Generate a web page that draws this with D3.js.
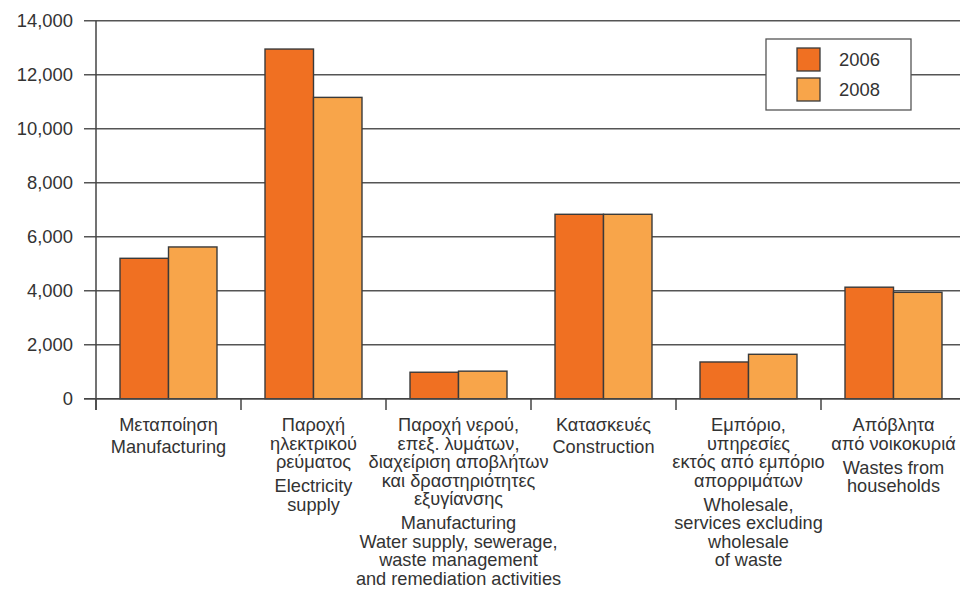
<!DOCTYPE html>
<html><head><meta charset="utf-8">
<script src="https://cdnjs.cloudflare.com/ajax/libs/d3/7.8.5/d3.min.js"></script>
<style>body{margin:0;background:#fff}svg{display:block}text{font-family:"Liberation Sans",Arial,Helvetica,sans-serif;fill:#333}</style>
</head><body>
<script>
const categories = ["manufacturing","electricity","water","construction","wholesale","households"];
const labelsGreek = [
  ["Μεταποίηση"],
  ["Παροχή","ηλεκτρικού","ρεύματος"],
  ["Παροχή νερού,","επεξ. λυμάτων,","διαχείριση αποβλήτων","και δραστηριότητες","εξυγίανσης"],
  ["Κατασκευές"],
  ["Εμπόριο,","υπηρεσίες","εκτός από εμπόριο","απορριμάτων"],
  ["Απόβλητα","από νοικοκυριά"]
];
const labelsEnglish = [
  ["Manufacturing"],
  ["Electricity","supply"],
  ["Manufacturing","Water supply, sewerage,","waste management","and remediation activities"],
  ["Construction"],
  ["Wholesale,","services excluding","wholesale","of waste"],
  ["Wastes from","households"]
];
const seriesNames = ["2006","2008"];
const values2006 = [5200, 12950, 980, 6830, 1360, 4130];
const values2008 = [5620, 11160, 1020, 6830, 1645, 3940];
const yTicks = [0,2000,4000,6000,8000,10000,12000,14000];
const colors = ["#F07022","#F8A54A"];

const W=960,H=589;
const svg=d3.select("body").append("svg").attr("width",W).attr("height",H);
const x0=d3.scaleBand().domain(categories).range([96,966]).paddingInner(0).paddingOuter(0);
const x1=d3.scaleBand().domain(seriesNames).range([0,x0.bandwidth()]).paddingInner(0).paddingOuter(0.495);
const y=d3.scaleLinear().domain([0,14000]).range([398.7,20.7]);
const color=d3.scaleOrdinal().domain(seriesNames).range(colors);
const series=[values2006,values2008];

svg.append("g").selectAll("line").data(yTicks).join("line")
  .attr("x1",84).attr("x2",W).attr("y1",d=>y(d)).attr("y2",d=>y(d))
  .attr("stroke","#555").attr("stroke-width",1.6);
svg.append("g").selectAll("text").data(yTicks).join("text")
  .attr("x",73).attr("y",d=>y(d)).attr("dy","0.35em").attr("text-anchor","end")
  .attr("font-size",18.4).text(d=>d3.format(",")(d));
svg.append("line").attr("x1",96).attr("x2",96).attr("y1",y(14000)).attr("y2",410)
  .attr("stroke","#444").attr("stroke-width",1.5);
const boundaries=categories.map(c=>x0(c)).concat([x0(categories[categories.length-1])+x0.bandwidth()]);
svg.append("g").selectAll("line").data(boundaries).join("line")
  .attr("x1",d=>d).attr("x2",d=>d).attr("y1",y(0)).attr("y2",410)
  .attr("stroke","#444").attr("stroke-width",1.5);

const g=svg.append("g");
categories.forEach((c,i)=>{
  seriesNames.forEach((s,j)=>{
    const v=series[j][i];
    g.append("rect").attr("x",x0(c)+x1(s)).attr("y",y(v))
      .attr("width",x1.bandwidth()).attr("height",y(0)-y(v))
      .attr("fill",color(s)).attr("stroke","#3a3a3a").attr("stroke-width",1.4);
  });
});
svg.append("line").attr("x1",84).attr("x2",W).attr("y1",y(0)).attr("y2",y(0))
  .attr("stroke","#444").attr("stroke-width",1.6);

const lh=18.5, gap=24, labelTop=431;
categories.forEach((c,i)=>{
  const cx=x0(c)+x0.bandwidth()/2;
  const t=svg.append("g").attr("font-size",18.2);
  let yy=labelTop;
  labelsGreek[i].forEach(l=>{
    t.append("text").attr("x",cx).attr("y",yy).attr("text-anchor","middle").text(l);
    yy+=lh;
  });
  yy+= (labelsGreek[i].length===1? 22: gap) - lh;
  labelsEnglish[i].forEach(l=>{
    t.append("text").attr("x",cx).attr("y",yy).attr("text-anchor","middle").text(l);
    yy+=lh;
  });
});

const lg=svg.append("g");
lg.append("rect").attr("x",766).attr("y",39).attr("width",145).attr("height",71)
  .attr("fill","#fff").attr("stroke","#555").attr("stroke-width",1.3);
seriesNames.forEach((s,j)=>{
  lg.append("rect").attr("x",797).attr("y",48+j*30).attr("width",23).attr("height",23)
    .attr("fill",color(s)).attr("stroke","#3a3a3a").attr("stroke-width",1.3);
  lg.append("text").attr("x",839).attr("y",60+j*30).attr("dy","0.35em").attr("font-size",18.4).text(s);
});
</script>
</body></html>
